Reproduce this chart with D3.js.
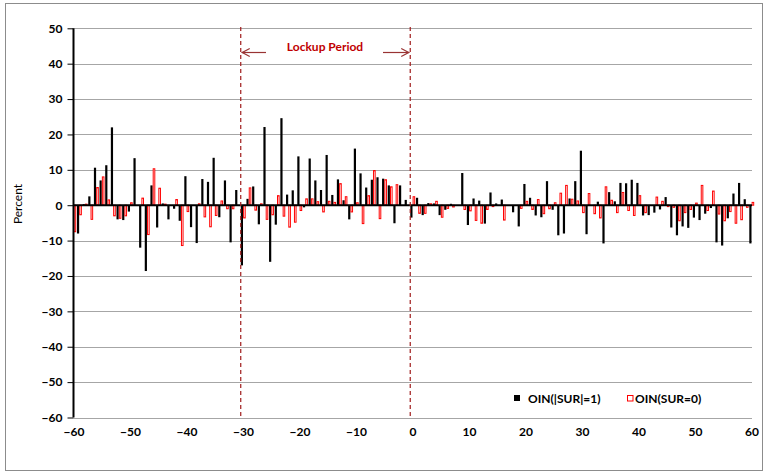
<!DOCTYPE html>
<html>
<head>
<meta charset="utf-8">
<script src="https://cdn.jsdelivr.net/npm/d3@7"></script>
<style>
  html, body { margin: 0; padding: 0; background: #fff; }
  svg { display: block; }
  text { font-family: Lato, "Open Sans", Arial, sans-serif; }
</style>
</head>
<body>
<script>
// Event days relative to the lockup expiry
const days = d3.range(-60, 61);

// Daily values, day -60 .. day 60
const oinSur1 = [
  0, -8, 0.3, 2.5, 10.6, 7, 11.3, 22, -4, -4.2,
  -1.8, 13.3, -12, -18.6, 5.6, -6.3, 0.5, -4, -1, -4.4,
  8.2, -6.2, -10.7, 7.4, 6.6, 13.4, -3.4, 7, -10.5, 4.3,
  -17, 1.8, 5.3, -5.4, 22.1, -16, -5.5, 24.6, 3, 4.2,
  13.8, -0.6, 13.2, 7, 4.3, 14.2, 2.9, 7.3, 1.4, -4,
  16, 9, 5, 7.2, 7.9, 7.5, 5.6, -5.1, 5.6, 1.5,
  -3.5,
  2.1, -2.8, 0.6, 0.5, -2.8, -1.3, 0.4, 0, 9.1, -5.6,
  1.9, 1.3, -5.2, 3.6, 0.5, 1.6, 0, -2, -6, 6,
  2.1, -2.9, -3.4, 6.8, -1.3, -8.5, -8, 1.9, 6.8, 15.4,
  -8.2, 0, 1, -10.8, 3.7, 1.1, 6.3, 6.2, 7.2, 6.3,
  -2.9, -2.8, -2.1, -1.2, 2.3, -6.3, -8.5, -6, -6.4, -3.5,
  -4.2, -2.4, -0.8, -10.5, -11.4, -3.7, 3.3, 6.3, 1.7, -10.8
];

const oinSur0 = [
  -7.5, -2.7, 0.3, -4, 5, 8, 1.5, -3, -3.7, -3,
  0.7, 0, 2, -8.3, 10.3, 4.8, 0.3, 0, 1.6, -11.4,
  -1.8, 0, 0.4, -3.3, -6.1, -2.9, 1.2, -1, -1, 0,
  -3.6, 4.9, -1.4, 0.4, -4, -2.7, 2.7, -3.1, -6.2, -4.8,
  -1.5, 1.8, 1.8, 1, -1.9, 1.1, 0.8, 6.1, 2.4, -1.9,
  0.7, -5.2, 2.7, 9.8, -3.8, 7.2, 5.2, 5.8, 0, 0,
  2.4,
  -2.3, -2.3, 0.4, 1.1, -3.4, -0.9, -0.5, 0, -1.2, -1.6,
  -4.3, -5.1, -1.2, -0.4, 0, -4.2, 0, 0, -0.9, 1.1,
  -1.2, 1.6, -2.4, -1, 0.7, 3.4, 5.6, 1.7, 1.2, -2.1,
  3.3, -2.4, -3.6, 5.2, 1.4, -2.1, 3.6, -1.5, -2.9, 2.7,
  -2.1, 0, 2.3, 1.1, -0.4, -0.6, -4.4, -2.1, -1.2, 0.6,
  5.6, -1.5, 4, -2.5, -4.4, -1.8, -5.1, -4.1, -0.6, 0.8
];

const xTicks = [-60, -50, -40, -30, -20, -10, 0, 10, 20, 30, 40, 50, 60];
const yTicks = [50, 40, 30, 20, 10, 0, -10, -20, -30, -40, -50, -60];
const seriesNames = ["OIN(|SUR|=1)", "OIN(SUR=0)"];
const lockupStart = -30.4, lockupEnd = -0.4;

const W = 766, H = 473;
const svg = d3.select("body").append("svg").attr("width", W).attr("height", H);

// outer chart frame
svg.append("rect").attr("x", 5.5).attr("y", 3.5).attr("width", 757).attr("height", 467)
  .attr("fill", "#fff").attr("stroke", "#8c8c8c").attr("stroke-width", 1);

const x = d3.scaleLinear().domain([-60, 60]).range([73.5, 751.5]);
const y = d3.scaleLinear().domain([-60, 50]).range([417.5, 28.3]);

// horizontal gridlines
svg.append("g").selectAll("line").data(yTicks.filter(v => v !== 0)).join("line")
  .attr("x1", x(-60)).attr("x2", 752)
  .attr("y1", d => Math.round(y(d)) + 0.5).attr("y2", d => Math.round(y(d)) + 0.5)
  .attr("stroke", "#a6a6a6").attr("stroke-width", 1);

// y axis with tick labels
const yAxis = d3.axisLeft(y).tickValues(yTicks).tickSize(6).tickPadding(5).tickFormat(d3.format("d"));
const gy = svg.append("g").attr("transform", `translate(${x(-60)},0)`).call(yAxis);
gy.select(".domain").remove();
gy.selectAll(".tick line").attr("stroke", "#000");
gy.selectAll(".tick text").attr("font-size", 12).attr("font-weight", "bold").attr("fill", "#000");

// x tick labels along the bottom
const xAxis = d3.axisBottom(x).tickValues(xTicks).tickSize(0).tickPadding(10).tickFormat(d3.format("d"));
const gx = svg.append("g").attr("transform", `translate(0,${y(-60)})`).call(xAxis);
gx.select(".domain").remove();
gx.selectAll(".tick line").remove();
gx.selectAll(".tick text").attr("font-size", 12).attr("font-weight", "bold").attr("fill", "#000");

// bars: solid black, hollow red
const barW = 2.2;
svg.append("g").selectAll("rect").data(days).join("rect")
  .attr("x", (d) => x(d) - barW)
  .attr("width", barW)
  .attr("y", (d, i) => y(Math.max(0, oinSur1[i])))
  .attr("height", (d, i) => Math.abs(y(oinSur1[i]) - y(0)))
  .attr("fill", "#000");

svg.append("g").selectAll("rect").data(days).join("rect")
  .attr("x", (d) => x(d) + 0.6)
  .attr("width", 1.6)
  .attr("y", (d, i) => y(Math.max(0, oinSur0[i])))
  .attr("height", (d, i) => Math.abs(y(oinSur0[i]) - y(0)))
  .attr("fill", "#fff").attr("stroke", "#ff0000").attr("stroke-width", 1);

// zero line and y axis line
svg.append("line").attr("x1", x(-60)).attr("x2", 752).attr("y1", y(0)).attr("y2", y(0))
  .attr("stroke", "#000").attr("stroke-width", 2);
svg.append("rect").attr("x", 72.5).attr("y", y(50)).attr("width", 2).attr("height", y(-60) - y(50))
  .attr("fill", "#000");

// lockup period markers
const lockColor = "#a01c1c";
[lockupStart, lockupEnd].forEach(v => {
  svg.append("line").attr("x1", x(v)).attr("x2", x(v)).attr("y1", 27).attr("y2", y(-60))
    .attr("stroke", lockColor).attr("stroke-width", 1.2).attr("stroke-dasharray", "4,3");
});
const arrowY = 52.5;
svg.append("line").attr("x1", 266).attr("x2", x(lockupStart) + 1).attr("y1", arrowY).attr("y2", arrowY)
  .attr("stroke", "#993333").attr("stroke-width", 1.2);
svg.append("path").attr("d", `M${x(lockupStart) + 9},${arrowY - 4} L${x(lockupStart) + 1.5},${arrowY} L${x(lockupStart) + 9},${arrowY + 4}`)
  .attr("fill", "none").attr("stroke", "#993333").attr("stroke-width", 1.2);
svg.append("line").attr("x1", 383).attr("x2", x(lockupEnd) - 1).attr("y1", arrowY).attr("y2", arrowY)
  .attr("stroke", "#993333").attr("stroke-width", 1.2);
svg.append("path").attr("d", `M${x(lockupEnd) - 9},${arrowY - 4} L${x(lockupEnd) - 1.5},${arrowY} L${x(lockupEnd) - 9},${arrowY + 4}`)
  .attr("fill", "none").attr("stroke", "#993333").attr("stroke-width", 1.2);
svg.append("text").attr("x", 325).attr("y", 50.5).attr("text-anchor", "middle")
  .attr("font-size", 12).attr("font-weight", "bold").attr("fill", "#c00000").text("Lockup Period");

// y axis title
svg.append("text").attr("transform", "translate(22,204) rotate(-90)").attr("text-anchor", "middle")
  .attr("font-size", 12).attr("fill", "#000").text("Percent");

// legend
const lg = svg.append("g");
lg.append("rect").attr("x", 514).attr("y", 395).attr("width", 6).attr("height", 6).attr("fill", "#000");
lg.append("text").attr("x", 528).attr("y", 402.5).attr("font-size", 12).attr("font-weight", "bold").text(seriesNames[0]);
lg.append("rect").attr("x", 627.5).attr("y", 395.5).attr("width", 5.5).attr("height", 5.5)
  .attr("fill", "#fff").attr("stroke", "#ff0000").attr("stroke-width", 1);
lg.append("text").attr("x", 635).attr("y", 402.5).attr("font-size", 12).attr("font-weight", "bold").text(seriesNames[1]);
</script>
</body>
</html>
